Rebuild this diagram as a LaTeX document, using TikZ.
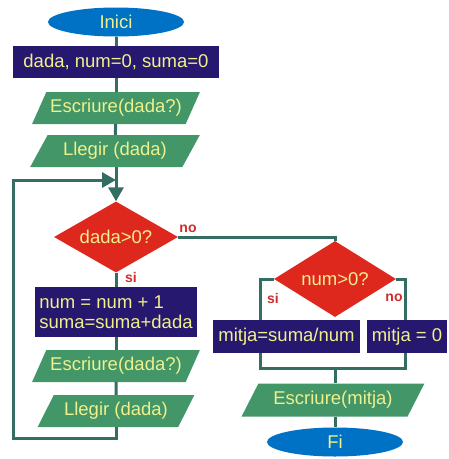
\documentclass[tikz,border=0pt]{standalone}
\usepackage{fontspec}
\setmainfont{Liberation Sans}
\usetikzlibrary{shapes.geometric,arrows.meta}
\definecolor{flowteal}{RGB}{52,110,98}
\definecolor{termblue}{RGB}{0,114,198}
\definecolor{procnavy}{RGB}{38,24,110}
\definecolor{iogreen}{RGB}{66,150,104}
\definecolor{condred}{RGB}{222,40,30}
\definecolor{textyellow}{RGB}{240,240,140}
\definecolor{labelred}{RGB}{205,45,45}
\tikzset{
  terminal/.style={ellipse,fill=termblue,text=textyellow,minimum width=136pt,minimum height=29pt,inner sep=0pt},
  process/.style={rectangle,fill=procnavy,text=textyellow,minimum height=32pt,inner sep=2pt},
  io/.style={trapezium,trapezium left angle=52,trapezium right angle=128,trapezium stretches=true,
    fill=iogreen,text=textyellow,minimum height=32pt,inner sep=0pt},
  decision/.style={diamond,aspect=1.7,fill=condred,text=textyellow,inner sep=0pt},
  flow/.style={draw=flowteal,line width=3pt},
  branch/.style={text=labelred,font=\fontsize{14}{16}\selectfont\bfseries,inner sep=0pt},
}
\begin{document}
\begin{tikzpicture}[x=1pt,y=-1pt,font=\fontsize{18.5}{20}\selectfont]
\useasboundingbox (0,0) rectangle (449,459);
\node[terminal] (inici) at (116,22) {Inici};
\node[process,minimum width=206pt] (init) at (116,62) {dada, num=0, suma=0};
\node[io,minimum width=168pt] (write1) at (116,108) {Escriure(dada?)};
\node[io,minimum width=170pt] (read1) at (115,151) {Llegir (dada)};
\node[decision,minimum width=124pt,minimum height=71pt] (cond) at (116,237) {dada>0?};
\node[process,minimum width=162pt,minimum height=50pt,align=left] (update) at (116,312) {num = num + 1\\suma=suma+dada};
\node[io,minimum width=168pt] (write2) at (116,366) {Escriure(dada?)};
\node[io,minimum width=157pt] (read2) at (116,411) {Llegir (dada)};
\node[decision,minimum width=122pt,minimum height=76pt] (avg) at (335,279) {num>0?};
\node[process,minimum width=147pt,minimum height=33pt] (mean) at (286.5,336.5) {mitja=suma/num};
\node[process,minimum width=80pt,minimum height=33pt] (zero) at (407,336.5) {mitja = 0};
\node[io,minimum width=183pt,minimum height=33pt] (write3) at (333,400) {Escriure(mitja)};
\node[terminal] (fi) at (335,442) {Fi};
\coordinate (loopleft) at (13,438);
\coordinate (join) at (116,180);
\coordinate (merge) at (335,368);
\draw[flow] (inici) -- (init);
\draw[flow] (init) -- (write1);
\draw[flow] (write1) -- (read1);
\draw[flow,-{Triangle[length=14pt,width=15pt]}] (read1.south -| join) -- (cond.north);
\draw[flow] (cond) -- (update);
\draw[flow] (update) -- (write2);
\draw[flow] (write2) -- (read2);
\draw[flow,-{Triangle[length=14pt,width=15pt]}] (read2.south) |- (loopleft) |- (join);
\draw[flow] (cond.east) -| (avg.north);
\draw[flow] (avg.west) -| ([xshift=-26.5pt]mean.north);
\draw[flow] (avg.east) -| ([xshift=-2pt]zero.north);
\draw[flow] ([xshift=-26.5pt]mean.south) |- (merge) -| ([xshift=-2pt]zero.south);
\draw[flow] (merge) -- (merge |- write3.north);
\draw[flow] (write3.south -| fi) -- (fi);
\node[branch] (no1) at (188,229) {no};
\node[branch] (si1) at (131,277) {si};
\node[branch] (si2) at (273,298) {si};
\node[branch] (no2) at (394,298) {no};
\end{tikzpicture}
\end{document}
